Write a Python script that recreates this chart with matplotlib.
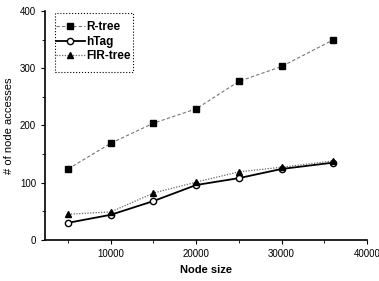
import matplotlib
matplotlib.use("Agg")
import matplotlib.pyplot as plt
from matplotlib.ticker import MultipleLocator
from matplotlib.patches import Rectangle

plt.rcParams['font.family'] = ['Liberation Sans', 'DejaVu Sans']

node_size = [5000, 10000, 15000, 20000, 25000, 30000, 36000]
rtree = [124, 169, 204, 229, 277, 303, 349]
htag = [30, 44, 68, 96, 108, 124, 135]
firtree = [45, 49, 82, 101, 119, 127, 138]

fig = plt.figure(figsize=(3.79, 2.81), dpi=100)
ax = fig.add_axes([0.119, 0.146, 0.849, 0.815])

ax.plot(node_size, rtree, linestyle=(0, (3, 2)), color='#777777', linewidth=0.8,
        marker='s', markersize=4.5, markerfacecolor='black', markeredgecolor='black',
        label='R-tree')
ax.plot(node_size, htag, linestyle='-', color='black', linewidth=1.3,
        marker='o', markersize=4.5, markerfacecolor='white', markeredgecolor='black',
        label='hTag')
ax.plot(node_size, firtree, linestyle=(0, (1, 1.2)), color='#666666', linewidth=0.9,
        marker='^', markersize=5, markerfacecolor='black', markeredgecolor='black',
        label='FIR-tree')

ax.set_xlim(2300, 40000)
ax.set_ylim(0, 400)
ax.xaxis.set_major_locator(MultipleLocator(10000))
ax.xaxis.set_minor_locator(MultipleLocator(5000))
ax.yaxis.set_major_locator(MultipleLocator(100))
ax.yaxis.set_minor_locator(MultipleLocator(50))
ax.tick_params(which='major', direction='out', length=3, width=0.8, labelsize=7)
ax.tick_params(which='minor', direction='out', length=2, width=0.6)

for s in ['top', 'right']:
    ax.spines[s].set_visible(False)
for s in ['left', 'bottom']:
    ax.spines[s].set_linewidth(1.2)

ax.set_xlabel('Node size', fontsize=8, fontweight='bold')
ax.set_ylabel('# of node accesses', fontsize=8)

leg = ax.legend(loc='upper left', bbox_to_anchor=(0.02, 0.975), fontsize=8.5,
                frameon=False, handlelength=2.4, handletextpad=0.15,
                borderpad=0.4, labelspacing=0.2, borderaxespad=0.0)
for t in leg.get_texts():
    t.set_fontweight('bold')

box = Rectangle((0.031, 0.734), 0.242, 0.257, transform=ax.transAxes,
                fill=False, edgecolor='black', linestyle=':', linewidth=0.8,
                clip_on=False)
ax.add_patch(box)

fig.savefig('out.png', dpi=100)
